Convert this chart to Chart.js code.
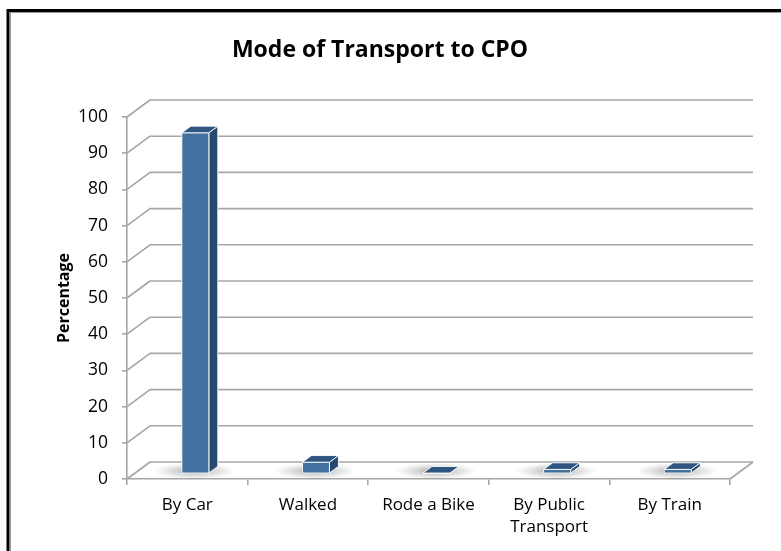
<!DOCTYPE html>
<html><head><meta charset="utf-8">
<script src="https://cdn.jsdelivr.net/npm/chart.js@4"></script>
<style>html,body{margin:0;padding:0;background:#fff}#wrap{width:781px;height:551px;position:relative}</style>
</head><body><div id="wrap"><canvas id="c" width="781" height="551"></canvas></div>
<script>
const categories = ['By Car', 'Walked', 'Rode a Bike', ['By Public', 'Transport'], 'By Train'];
const percentages = [94, 3, 0, 1, 1];
const yTickValues = [0, 10, 20, 30, 40, 50, 60, 70, 80, 90, 100];
const chartTitle = 'Mode of Transport to CPO';
const yAxisTitle = 'Percentage';

const FONT = "'Open Sans', 'Liberation Sans', sans-serif";
const DX = 23, DY = 17;          // depth of the 3D floor / wall
const F0 = 0.35, F1 = 0.74;      // bar front / back depth fractions
const GRID = '#a6a6a6';

const threeD = {
  id: 'threeD',
  beforeDraw(chart) {
    const ctx = chart.ctx;
    ctx.save();
    ctx.fillStyle = '#fff';
    ctx.fillRect(0, 0, chart.width, chart.height);
    ctx.strokeStyle = '#000';
    ctx.lineWidth = 3;
    ctx.strokeRect(8, 10.5, 900, 700);
    ctx.strokeStyle = '#9a9a9a';
    ctx.lineWidth = 1;
    ctx.strokeRect(10.5, 12.5, 900, 700);
    // chart title
    ctx.fillStyle = '#000';
    ctx.font = "bold 23px " + FONT;
    ctx.textAlign = 'center';
    ctx.textBaseline = 'middle';
    ctx.fillText(chartTitle, 380, 50);
    ctx.restore();
  },
  beforeDatasetsDraw(chart) {
    const ctx = chart.ctx;
    const ys = chart.scales.y;
    const area = chart.chartArea;
    ctx.save();
    ctx.strokeStyle = GRID;
    ctx.lineWidth = 1.6;
    ctx.lineJoin = 'round';
    yTickValues.forEach(v => {
      const y = ys.getPixelForValue(v);
      ctx.beginPath();
      ctx.moveTo(area.left, y);
      ctx.lineTo(area.left + DX, y - DY);
      ctx.lineTo(area.right + DX, y - DY);
      ctx.stroke();
    });
    const yb = ys.getPixelForValue(0);
    ctx.beginPath();
    ctx.moveTo(area.right, yb);
    ctx.lineTo(area.right + DX, yb - DY);
    ctx.stroke();

    const meta = chart.getDatasetMeta(0);
    // floor shadows
    meta.data.forEach((el, i) => {
      const w = el.width;
      const cx = el.x + (F0 + F1) / 2 * DX - w * 0.2;
      const cy = yb - F0 * DY - 2;
      const r = w * 1.5;
      const g = ctx.createRadialGradient(cx, cy, 0, cx, cy, r);
      g.addColorStop(0, 'rgba(0,0,0,0.38)');
      g.addColorStop(0.5, 'rgba(0,0,0,0.15)');
      g.addColorStop(1, 'rgba(0,0,0,0)');
      ctx.save();
      ctx.translate(cx, cy);
      ctx.scale(1, 0.2);
      ctx.translate(-cx, -cy);
      ctx.fillStyle = g;
      ctx.beginPath();
      ctx.arc(cx, cy, r, 0, Math.PI * 2);
      ctx.fill();
      ctx.restore();
    });
    // bars
    meta.data.forEach((el, i) => {
      const v = percentages[i];
      const w = el.width;
      const xl = el.x - w / 2 + F0 * DX, xr = el.x + w / 2 + F0 * DX;
      const yt = ys.getPixelForValue(v) - F0 * DY;
      const ybt = yb - F0 * DY;
      const ddx = (F1 - F0) * DX, ddy = (F1 - F0) * DY;
      ctx.strokeStyle = 'rgba(255,255,255,0.9)';
      ctx.lineWidth = 1;
      // side
      ctx.fillStyle = '#284a70';
      ctx.beginPath();
      ctx.moveTo(xr, yt); ctx.lineTo(xr + ddx, yt - ddy); ctx.lineTo(xr + ddx, ybt - ddy); ctx.lineTo(xr, ybt); ctx.closePath();
      ctx.fill(); ctx.stroke();
      // front
      ctx.fillStyle = '#4271a0';
      ctx.beginPath();
      ctx.rect(xl, yt, xr - xl, ybt - yt);
      ctx.fill(); ctx.stroke();
      // top
      ctx.fillStyle = '#2f5680';
      ctx.beginPath();
      ctx.moveTo(xl, yt); ctx.lineTo(xr, yt); ctx.lineTo(xr + ddx, yt - ddy); ctx.lineTo(xl + ddx, yt - ddy); ctx.closePath();
      ctx.fill(); ctx.stroke();
    });
    ctx.restore();
  }
};

new Chart(document.getElementById('c'), {
  type: 'bar',
  data: {
    labels: categories,
    datasets: [{
      label: yAxisTitle,
      data: percentages,
      backgroundColor: 'rgba(0,0,0,0)',
      borderWidth: 0,
      barPercentage: 0.224,
      categoryPercentage: 1
    }]
  },
  options: {
    responsive: false,
    animation: false,
    devicePixelRatio: 1,
    layout: { padding: { left: 0, right: 51, top: 117, bottom: 0 } },
    plugins: {
      legend: { display: false },
      tooltip: { enabled: false },
      title: { display: false }
    },
    scales: {
      x: {
        grid: { display: true, offset: true, drawOnChartArea: false, drawTicks: true, tickLength: 6, color: GRID, lineWidth: 1.6 },
        border: { display: true, color: GRID, width: 1.6 },
        ticks: { color: '#000', font: { family: FONT, size: 17, lineHeight: 1.3 }, padding: 9, maxRotation: 0, autoSkip: false },
        afterFit(s) { s.height = 72; }
      },
      y: {
        min: 0, max: 100,
        afterBuildTicks(s) { s.ticks = yTickValues.map(v => ({ value: v })); },
        grid: { display: true, drawOnChartArea: false, drawTicks: true, tickLength: 5, color: GRID, lineWidth: 1.6 },
        border: { display: true, color: GRID, width: 1.6 },
        ticks: { color: '#000', font: { family: FONT, size: 17.5 }, padding: 14 },
        title: { display: true, text: yAxisTitle, color: '#000', font: { family: FONT, size: 16, weight: 'bold', lineHeight: 1.2 }, padding: { top: 55, bottom: 0 } },
        afterFit(s) { s.width = 127; }
      }
    }
  },
  plugins: [threeD]
});
</script>
</body></html>
